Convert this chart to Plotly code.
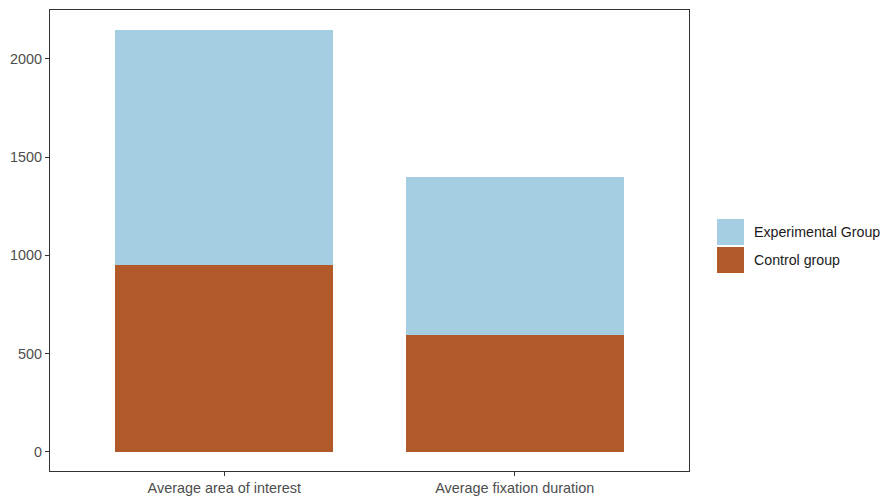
import plotly.graph_objects as go

categories = ["Average area of interest", "Average fixation duration"]
control_values = [952, 597]
experimental_values = [1193, 803]
series_names = ["Experimental Group", "Control group"]
series_colors = ["#A6CEE3", "#B15928"]
y_ticks = [0, 500, 1000, 1500, 2000]

fig = go.Figure()
fig.add_trace(go.Bar(x=categories, y=control_values, name=series_names[1],
                     marker=dict(color=series_colors[1], line=dict(width=0)),
                     width=0.75, showlegend=False))
fig.add_trace(go.Bar(x=categories, y=experimental_values, name=series_names[0],
                     marker=dict(color=series_colors[0], line=dict(width=0)),
                     width=0.75, showlegend=False))

fig.update_layout(
    template="none",
    barmode="stack",
    width=885, height=497,
    autosize=False,
    margin=dict(l=50, r=196, t=10, b=26, pad=0),
    plot_bgcolor="white", paper_bgcolor="white",
    font=dict(family="Liberation Sans, Arial, sans-serif", size=14.4, color="#4D4D4D"),
    xaxis=dict(range=[-0.6, 1.6], showline=True, mirror=True, linecolor="#333333",
               linewidth=1, ticks="outside", ticklen=4, tickcolor="#333333",
               showgrid=False, zeroline=False, automargin=False,
               tickfont=dict(size=14.4, color="#4D4D4D")),
    yaxis=dict(range=[-97, 2249], showline=True, mirror=True, linecolor="#333333",
               linewidth=1, ticks="outside", ticklen=4, tickcolor="#333333",
               tickvals=y_ticks, showgrid=False, zeroline=False, automargin=False,
               tickfont=dict(size=14.4, color="#4D4D4D")),
)

# legend (ggplot-style large keys)
key_x0, key_x1 = 1.0438, 1.0861
keys = [(0.5466, 0.4902), (0.4859, 0.4295)]
for (y1, y0), name, color in zip(keys, series_names, series_colors):
    fig.add_shape(type="rect", xref="paper", yref="paper", x0=key_x0, x1=key_x1,
                  y0=y0, y1=y1, fillcolor=color, line=dict(width=0))
    fig.add_annotation(xref="paper", yref="paper", x=1.0985, y=(y0 + y1) / 2,
                       text=name, showarrow=False, xanchor="left", yanchor="middle",
                       font=dict(size=14.2, color="#1A1A1A"))

fig.write_html("out.html",
               config={"displayModeBar": False, "responsive": False},
               post_script="document.body.style.margin='0';")
